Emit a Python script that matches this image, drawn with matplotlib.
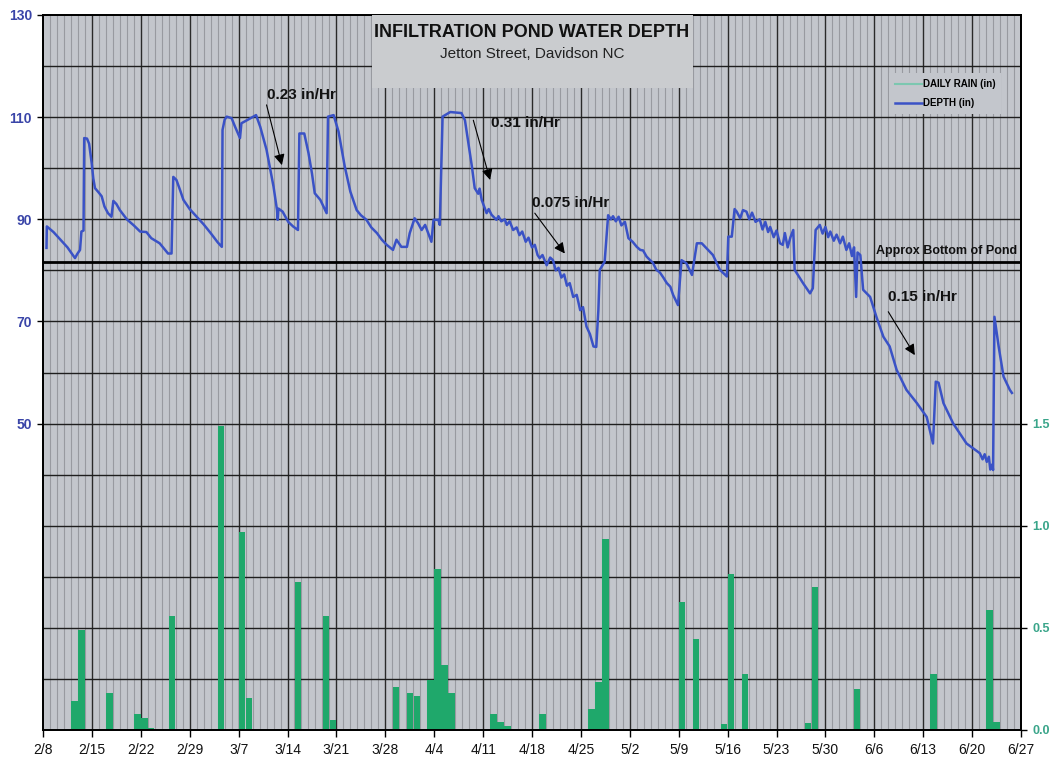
import matplotlib
matplotlib.use("Agg")
import matplotlib.pyplot as plt
from matplotlib.patches import Rectangle
from matplotlib.lines import Line2D

plt.rcParams['font.family'] = ['Liberation Sans', 'DejaVu Sans']

# ---------------- data ----------------
# x positions are days after 2/8 (2008)
date_labels = ['2/8', '2/15', '2/22', '2/29', '3/7', '3/14', '3/21', '3/28', '4/4', '4/11',
               '4/18', '4/25', '5/2', '5/9', '5/16', '5/23', '5/30', '6/6', '6/13', '6/20', '6/27']

depth_day = [0.5, 0.55, 1.5, 2.5, 3.5, 4.58, 4.9, 5.3, 5.5, 5.8, 5.9, 6.3, 6.6, 6.97, 7.2, 7.44,
             8.0, 8.4, 8.8, 9.3, 9.8, 10.07, 10.5, 11.0, 12.0, 13.0, 13.9, 14.8, 15.5, 16.7,
             17.9, 18.4, 18.65, 19.1, 19.6, 20.1, 21.0, 22.0, 23.0, 24.0, 25.0, 25.6, 25.7,
             26.0, 26.3, 27.0, 27.5, 28.2, 28.4, 29.2, 30.5, 31.1, 32.0, 32.5, 33.0, 33.5,
             33.6, 33.7, 34.3, 35.1, 35.8, 36.5, 36.7, 37.4, 38.0, 38.5, 38.9, 39.7, 40.6,
             40.8, 41.6, 42.3, 43.2, 44.0, 44.9, 45.5, 46.3, 47.0, 47.8, 48.5, 49.2, 50.1,
             50.6, 51.3, 52.1, 52.5, 53.2, 53.7, 54.2, 54.7, 55.6, 55.9, 56.6, 56.8, 57.2,
             58.3, 59.9, 60.4, 61.4, 61.8, 62.3, 62.5, 62.8, 63.5, 63.8, 64.2, 64.9, 65.2,
             65.6, 66.1, 66.4, 66.8, 67.3, 67.8, 68.2, 68.6, 69.1, 69.5, 70.0, 70.4, 70.8,
             71.1, 71.5, 72.1, 72.6, 73.0, 73.4, 73.8, 74.2, 74.6, 75.0, 75.4, 75.9, 76.4,
             76.9, 77.3, 77.8, 78.3, 78.8, 79.2, 79.5, 79.7, 80.4, 80.9, 81.3, 81.6, 82.0,
             82.4, 82.8, 83.3, 83.8, 84.4, 85.0, 85.5, 85.9, 86.4, 86.9, 87.3, 87.8, 88.3,
             88.8, 89.3, 89.8, 90.2, 90.9, 91.4, 92.1, 92.9, 93.6, 94.3, 95.0, 95.9, 96.9,
             97.9, 98.1, 98.6, 99.0, 99.3, 99.8, 100.2, 100.7, 101.1, 101.5, 102.0, 102.6,
             103.0, 103.4, 103.8, 104.1, 104.6, 105.0, 105.5, 105.9, 106.2, 106.6, 107.0,
             107.4, 107.6, 108.8, 109.8, 110.2, 110.6, 111.2, 111.6, 112.0, 112.4, 112.7,
             113.2, 113.6, 114.1, 114.5, 115.0, 115.4, 115.8, 116.1, 116.4, 116.6, 117.0,
             117.4, 118.4, 119.3, 120.3, 121.2, 122.2, 123.6, 125.1, 126.5, 127.4, 127.8,
             128.2, 128.9, 130.3, 132.2, 134.1, 134.5, 134.8, 135.1, 135.4, 135.6, 135.9,
             136.0, 136.2, 136.8, 137.5, 138.4, 138.7]
depth_in = [84.4, 88.6, 87.5, 86.0, 84.5, 82.4, 83.2, 84.0, 87.6, 87.8, 105.9, 105.8, 104.8,
            101.0, 98.0, 96.1, 95.2, 94.5, 92.5, 91.2, 90.5, 93.6, 93.0, 91.8, 90.0, 88.8,
            87.6, 87.5, 86.3, 85.3, 83.3, 83.3, 98.3, 97.7, 95.8, 93.8, 92.0, 90.5, 89.0,
            87.3, 85.5, 84.6, 107.5, 109.5, 110.1, 109.8, 108.1, 105.9, 108.8, 109.4, 110.4,
            108.1, 103.6, 100.0, 96.4, 91.8, 89.9, 92.1, 91.5, 89.5, 88.6, 87.9, 106.8, 106.8,
            103.0, 99.0, 95.1, 93.8, 91.2, 110.1, 110.4, 107.2, 100.3, 95.4, 91.8, 90.8, 89.9,
            88.4, 87.3, 86.0, 85.0, 84.0, 86.0, 84.6, 84.6, 87.3, 90.2, 89.2, 87.9, 88.9,
            85.6, 89.9, 89.9, 88.9, 110.1, 111.0, 110.8, 109.4, 100.3, 96.1, 95.0, 96.0, 93.8,
            91.2, 92.0, 90.9, 89.9, 90.6, 89.6, 90.0, 88.9, 89.6, 87.9, 88.4, 86.9, 87.6,
            85.6, 86.4, 84.5, 85.0, 83.0, 82.4, 83.0, 81.0, 82.5, 82.0, 80.0, 80.5, 78.6,
            79.2, 77.0, 77.5, 74.8, 75.2, 72.2, 72.8, 69.0, 67.5, 65.1, 65.0, 72.2, 80.1,
            81.7, 90.8, 90.0, 90.6, 89.6, 90.5, 88.8, 89.5, 86.3, 85.6, 84.6, 84.0, 83.9,
            82.7, 82.0, 81.5, 80.1, 79.6, 78.6, 77.5, 76.8, 75.2, 73.2, 82.0, 81.4, 79.1,
            85.3, 85.3, 84.3, 83.0, 80.1, 78.8, 86.6, 86.6, 92.0, 91.5, 90.2, 91.8, 91.5,
            90.0, 91.3, 89.5, 90.0, 88.0, 89.5, 87.5, 88.5, 86.5, 87.8, 85.3, 85.0, 87.3,
            84.5, 86.5, 87.9, 80.1, 77.5, 75.5, 76.5, 87.9, 88.9, 87.2, 88.5, 86.5, 87.6,
            85.8, 87.0, 85.3, 86.6, 84.0, 85.3, 82.8, 84.5, 74.8, 83.5, 83.0, 76.2, 74.8,
            70.9, 67.0, 65.1, 60.5, 56.6, 54.0, 51.3, 46.1, 58.2, 58.0, 54.0, 50.0, 46.1,
            44.2, 43.0, 44.0, 42.5, 43.5, 41.0, 42.0, 40.9, 70.9, 65.1, 59.2, 56.6, 56.0]

rain_day = [4, 5, 9, 13, 14, 15, 18, 25, 28, 29, 36, 40, 41, 44, 50, 52, 53, 55, 56, 57, 58,
            64, 65, 66, 71, 78, 79, 80, 90, 91, 93, 97, 98, 100, 109, 110, 116, 127, 134,
            135, 136]
rain_in = [0.14, 0.49, 0.18, 0.08, 0.06, 0.01, 0.56, 1.49, 0.97, 0.155, 0.725, 0.56, 0.05,
           0.005, 0.21, 0.18, 0.165, 0.245, 0.79, 0.32, 0.18, 0.08, 0.04, 0.02, 0.08, 0.105,
           0.235, 0.935, 0.005, 0.625, 0.445, 0.03, 0.765, 0.275, 0.035, 0.70, 0.20, 0.275,
           0.005, 0.585, 0.04]

bottom_of_pond = 81.7

left_ticks = [50, 70, 90, 110, 130]
right_ticks = [0.0, 0.5, 1.0, 1.5]

annotations = [
    ("0.23 in/Hr", (32.1, 114.3), (32.0, 112.4), (34.2, 100.6)),
    ("0.31 in/Hr", (64.2, 108.8), (61.6, 109.4), (64.0, 97.7)),
    ("0.075 in/Hr", (70.0, 93.1), (70.4, 91.2), (74.7, 83.3)),
    ("0.15 in/Hr", (121.0, 74.8), (121.0, 71.9), (124.8, 63.4)),
]

# ---------------- styling ----------------
BG = '#c3c6cc'
BLUE = '#3a52c6'
GREEN = '#1fa86b'
LEFT_LBL = '#3a45a8'
RIGHT_LBL = '#3aa58a'

fig = plt.figure(figsize=(10.52, 7.57), dpi=100)
fig.patch.set_facecolor('white')
axr = fig.add_axes([43 / 1052, 1 - 730 / 757, 978 / 1052, 715 / 757])
ax = axr.twinx()

# rain axis (drawn underneath, carries the background and grid)
axr.set_facecolor(BG)
axr.set_xlim(0, 140)
axr.set_ylim(0, 3.5)
for d in range(1, 140):
    if d % 7:
        axr.axvline(d, color='#989aa0', lw=0.8, zorder=0.5)
    else:
        axr.axvline(d, color='#2a2a2a', lw=1.0, zorder=0.6)
for k in range(1, 14):
    axr.axhline(k * 0.25, color='#1e1e1e', lw=1.0, zorder=0.6)
axr.bar([d + 0.04 for d in rain_day], rain_in, width=0.92, align='edge',
        color=GREEN, zorder=2)
axr.yaxis.tick_right()
axr.yaxis.set_label_position('right')
axr.set_yticks(right_ticks)
axr.set_yticklabels(['%.1f' % v for v in right_ticks], color=RIGHT_LBL,
                    fontsize=9, fontweight='bold')
axr.tick_params(axis='y', length=4, width=1, pad=4, right=True, left=False)
axr.set_xticks(range(0, 141, 7))
axr.set_xticklabels(date_labels, fontsize=10, color='#111111')
axr.tick_params(axis='x', length=5, width=1, pad=4)

# depth axis (on top)
ax.set_zorder(axr.get_zorder() + 1)
ax.patch.set_visible(False)
ax.set_xlim(0, 140)
ax.set_ylim(-10, 130)
ax.yaxis.tick_left()
ax.set_yticks(left_ticks)
ax.set_yticklabels([str(v) for v in left_ticks], color=LEFT_LBL, fontsize=10,
                   fontweight='bold')
ax.tick_params(axis='y', length=4, width=1, pad=4, left=True, right=False)
ax.plot(depth_day, depth_in, color=BLUE, lw=1.8, zorder=3)
ax.axhline(bottom_of_pond, color='black', lw=2.0, zorder=2.5)
ax.text(139.4, bottom_of_pond + 0.9, 'Approx Bottom of Pond', ha='right', va='bottom',
        fontsize=9, fontweight='bold', color='#111111', zorder=4)

for txt, tpos, tail, tip in annotations:
    ax.text(tpos[0], tpos[1], txt, ha='left', va='center', fontsize=11,
            fontweight='bold', color='#111111', zorder=5)
    ax.annotate('', xy=tip, xytext=tail,
                arrowprops=dict(arrowstyle='-|>', color='black', lw=0.8,
                                mutation_scale=16, shrinkA=0, shrinkB=0),
                zorder=5)

for a in (ax, axr):
    for s in a.spines.values():
        s.set_color('black')
        s.set_linewidth(1.3)

# title box
ax.add_patch(Rectangle((0.336, 0.898), 0.329, 0.102, transform=ax.transAxes,
                       facecolor='#cacccf', edgecolor='none', zorder=6))
ax.text(0.5, 0.976, 'INFILTRATION POND WATER DEPTH', transform=ax.transAxes,
        ha='center', va='center', fontsize=13, fontweight='bold', color='#111111', zorder=7)
ax.text(0.5, 0.945, 'Jetton Street, Davidson NC', transform=ax.transAxes,
        ha='center', va='center', fontsize=11, color='#222222', zorder=7)

# legend
handles = [Line2D([], [], color='#7cc7b0', lw=1.5), Line2D([], [], color=BLUE, lw=1.8)]
leg = ax.legend(handles, ['DAILY RAIN (in)', 'DEPTH (in)'], loc='upper left',
                bbox_to_anchor=(0.860, 0.925), frameon=True, fancybox=False,
                facecolor=BG, edgecolor='none', framealpha=1.0,
                prop={'size': 7, 'weight': 'bold'}, handlelength=2.8,
                handletextpad=0.1, labelspacing=0.9, borderpad=0.6)
leg.set_zorder(8)

fig.savefig('out.png', dpi=100, facecolor='white')
